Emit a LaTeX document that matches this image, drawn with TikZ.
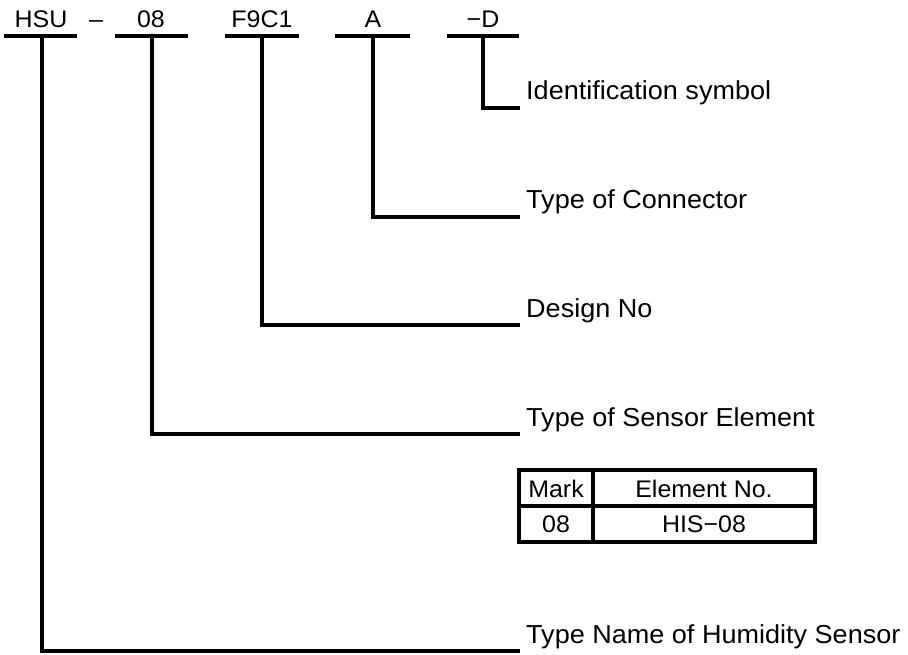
\documentclass[tikz,border=0pt]{standalone}
\usepackage{fontspec}
\setmainfont[FakeStretch=1.04]{Liberation Sans}
\begin{document}
\begin{tikzpicture}[x=1pt,y=-1pt,
  code/.style={anchor=base, inner sep=0pt, font=\fontsize{24}{24}\selectfont},
  desc/.style={anchor=base west, inner sep=0pt, font=\fontsize{26}{26}\selectfont},
  cell/.style={anchor=base, inner sep=0pt, font=\fontsize{24}{24}\selectfont},
  rule/.style={line width=3.2pt},
  lead/.style={line width=3.2pt, line join=miter},
  tab/.style={line width=3.2pt}]
\useasboundingbox (0,0) rectangle (908,655);
% code labels
\node[code] (hsu) at (41,28) {HSU};
\node[code] (dash) at (96,28) {–};
\node[code] (n08) at (151,28) {08};
\node[code] (f9c1) at (262,28) {F9C1};
\node[code] (a) at (373,28) {A};
\node[code] (d) at (483,28) {−D};
% underlines
\coordinate (hsuL) at (4,36);   \coordinate (hsuR) at (77,36);
\coordinate (n08L) at (115,36); \coordinate (n08R) at (188,36);
\coordinate (f9L) at (225,36);  \coordinate (f9R) at (299,36);
\coordinate (aL) at (335,36);   \coordinate (aR) at (410,36);
\coordinate (dL) at (447,36);   \coordinate (dR) at (519,36);
\draw[rule] (hsuL) -- (hsuR);
\draw[rule] (n08L) -- (n08R);
\draw[rule] (f9L) -- (f9R);
\draw[rule] (aL) -- (aR);
\draw[rule] (dL) -- (dR);
% lead tops
\coordinate (hsuT) at (42,36);
\coordinate (n08T) at (152,36);
\coordinate (f9T) at (262,36);
\coordinate (aT) at (373,36);
\coordinate (dT) at (483,36);
% corners
\coordinate (hsuC) at (42,651);
\coordinate (n08C) at (152,434);
\coordinate (f9C) at (262,325);
\coordinate (aC) at (373,217);
\coordinate (dC) at (483,108);
% ends
\coordinate (hsuE) at (520,651);
\coordinate (n08E) at (520,434);
\coordinate (f9E) at (520,325);
\coordinate (aE) at (520,217);
\coordinate (dE) at (520,108);
\draw[lead] (hsuT) -- (hsuC) -- (hsuE);
\draw[lead] (n08T) -- (n08C) -- (n08E);
\draw[lead] (f9T) -- (f9C) -- (f9E);
\draw[lead] (aT) -- (aC) -- (aE);
\draw[lead] (dT) -- (dC) -- (dE);
% descriptions
\node[desc] (idsym) at (526,100) {Identification symbol};
\node[desc] (conn) at (526,209) {Type of Connector};
\node[desc] (design) at (526,317) {Design No};
\node[desc] (elem) at (526,426) {Type of Sensor Element};
\node[desc] (tname) at (526,643) {Type Name of Humidity Sensor};
% table
\draw[tab] (519,470) rectangle (815,542);
\draw[tab] (593,470) -- (593,542);
\draw[tab] (519,506) -- (815,506);
\node[cell] (mark) at (556,497) {Mark};
\node[cell] (elno) at (704,497) {Element No.};
\node[cell] (m08) at (556,532) {08};
\node[cell] (his) at (704,532) {HIS−08};
\end{tikzpicture}
\end{document}
